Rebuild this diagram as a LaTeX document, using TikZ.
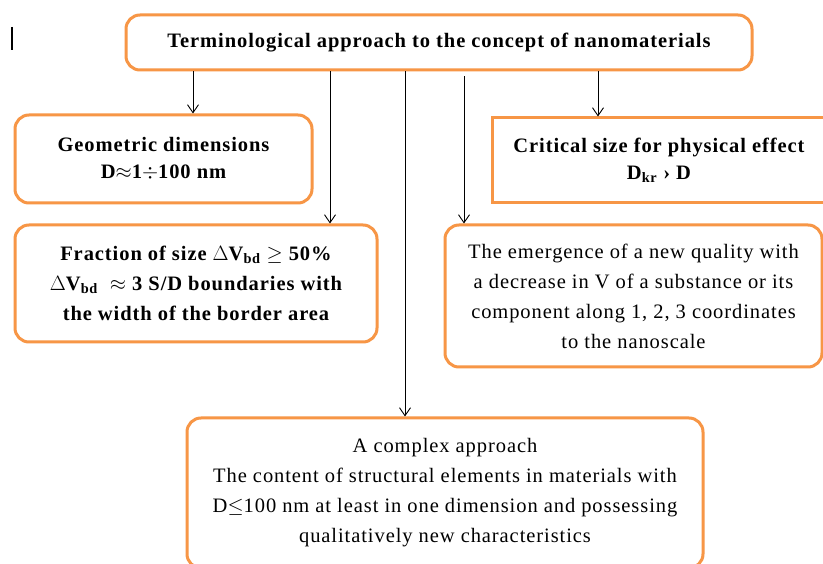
\documentclass[tikz,border=0pt]{standalone}
\usepackage{fontspec}
\setmainfont{Liberation Serif}
\newfontfamily\wideserif[LetterSpace=4.5]{Liberation Serif}
\usetikzlibrary{arrows.meta}
\definecolor{boxorange}{RGB}{247,150,70}
\tikzset{
  box/.style={draw=boxorange, line width=3pt, rounded corners=14pt, align=center, inner sep=0pt, fill=white},
  sqbox/.style={draw=boxorange, line width=3pt, align=center, inner sep=0pt, fill=white},
  arr/.style={draw=black, line width=0.9pt, -{Straight Barb[length=8pt,width=11pt]}},
  bfnt/.style={font=\wideserif\fontsize{20.5pt}{27pt}\selectfont\bfseries},
  nfnt/.style={font=\wideserif\fontsize{20.5pt}{30pt}\selectfont},
}
\begin{document}
\begin{tikzpicture}[x=1pt,y=-1pt]
\useasboundingbox[fill=white] (0,0) rectangle (823,564);
\draw[line width=2pt] (12,27) coordinate (c1) -- (12,50) coordinate (c2);
\node[box, minimum width=626pt, minimum height=55pt, font=\wideserif\fontsize{20.5pt}{24pt}\selectfont\bfseries] (top) at (439,42.5) {Terminological approach to the concept of nanomaterials};
\node[box, bfnt, minimum width=297pt, minimum height=88pt] (geo) at (163.5,159) {Geometric dimensions\\D$\approx$1$\div$100 nm};
\node[box, font=\wideserif\fontsize{20.5pt}{30pt}\selectfont\bfseries, minimum width=362pt, minimum height=117pt] (frac) at (196,283.5) {Fraction of size $\Delta$V\textsubscript{bd} $\geq$ 50\%\\$\Delta$V\textsubscript{bd} \ $\approx$ 3 S/D boundaries with\\the width of the border area};
\node[sqbox, bfnt, minimum width=334pt, minimum height=85pt] (crit) at (659,160.5) {Critical size for physical effect\\D\textsubscript{kr} › D};
\node[box, nfnt, minimum width=377pt, minimum height=142pt] (emer) at (633.5,296) {The emergence of a new quality with\\a decrease in V of a substance or its\\component along 1, 2, 3 coordinates\\to the nanoscale};
\node[box, nfnt, minimum width=516pt, minimum height=150pt] (comp) at (445,493) {A complex approach\\The content of structural elements in materials with\\D$\leq$100 nm at least in one dimension and possessing\\qualitatively new characteristics};
\draw[arr] (top.south -| 193,0) -- (geo.north -| 193,0);
\draw[arr] (top.south -| 330,0) -- (frac.north -| 330,0);
\draw[arr] (top.south -| 405,0) -- (comp.north -| 405,0);
\draw[arr, shorten <=5pt] (top.south -| 464,0) -- (emer.north -| 464,0);
\draw[arr] (top.south -| 598,0) -- (crit.north -| 598,0);
\end{tikzpicture}
\end{document}
